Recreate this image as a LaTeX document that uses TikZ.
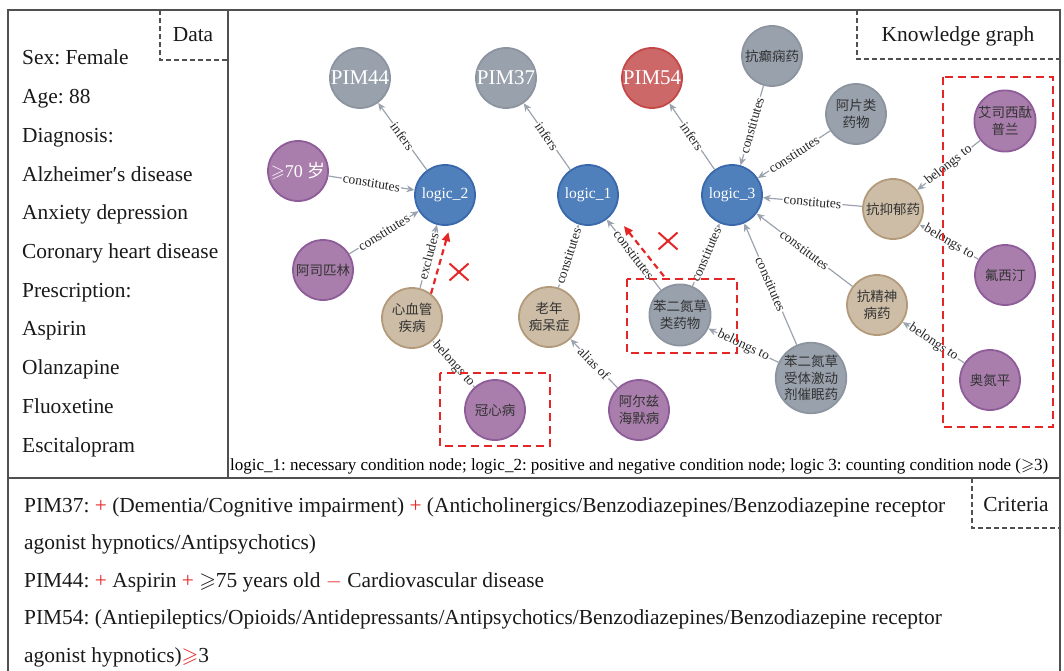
\documentclass[tikz,border=0pt]{standalone}
\usepackage{amsmath,amssymb}
\usepackage{fontspec}
\setmainfont{Liberation Serif}
\newfontfamily\cjk{Noto Sans CJK SC}
\usetikzlibrary{arrows.meta, shapes.misc, positioning}
\frenchspacing

\definecolor{framegray}{RGB}{80,80,80}
\definecolor{edgegray}{RGB}{155,163,175}
\definecolor{pimgrayfill}{RGB}{153,161,173}
\definecolor{pimgrayline}{RGB}{140,148,160}
\definecolor{logicfill}{RGB}{80,128,188}
\definecolor{logicline}{RGB}{58,104,172}
\definecolor{pimredfill}{RGB}{205,104,104}
\definecolor{pimredline}{RGB}{196,72,72}
\definecolor{purplefill}{RGB}{169,126,172}
\definecolor{purpleline}{RGB}{142,92,152}
\definecolor{tanfill}{RGB}{205,189,166}
\definecolor{tanline}{RGB}{178,154,122}
\definecolor{markred}{RGB}{228,38,38}

\tikzset{
  frame/.style={draw=framegray, line width=1.4pt},
  tagline/.style={draw=framegray, line width=1.1pt, dash pattern=on 5pt off 3pt},
  reddash/.style={draw=markred, line width=2.2pt, dash pattern=on 8pt off 5pt},
  kg/.style={circle, minimum size=60pt, inner sep=0pt, line width=1.8pt, align=center,
    font=\cjk\fontsize{13.5}{16.5}\selectfont, text=black!80},
  grayball/.style={kg, fill=pimgrayfill, draw=pimgrayline},
  pimball/.style={kg, fill=pimgrayfill, draw=pimgrayline, text=white, font=\fontsize{21}{21}\selectfont},
  redball/.style={pimball, fill=pimredfill, draw=pimredline},
  logicball/.style={kg, fill=logicfill, draw=logicline, text=white, font=\fontsize{15.5}{16}\selectfont},
  purpleball/.style={kg, fill=purplefill, draw=purpleline},
  tanball/.style={kg, fill=tanfill, draw=tanline},
  rel/.style={draw=edgegray, line width=1.2pt, -{Stealth[length=8pt,width=7pt]}},
  rlabel/.style={sloped, fill=white, inner sep=1pt, text=black!85, font=\fontsize{13.5}{13.5}\selectfont},
  redarrow/.style={draw=markred, line width=2.2pt, dash pattern=on 6pt off 4pt,
    -{Triangle[length=9pt,width=8pt]}},
  cross/.style={cross out, draw=markred, line width=2pt, minimum width=17pt, minimum height=15pt, inner sep=0pt},
  bigtxt/.style={font=\fontsize{21.4}{24}\selectfont, inner sep=0pt, text=black!90}
}

\begin{document}
\begin{tikzpicture}[x=1pt,y=-1pt]

% Khung ngoài
\useasboundingbox (0,0) rectangle (1064,671);
\draw[frame] (8,671) -- (8,10) -- (1060,10) -- (1060,671);
\draw[frame] (228,10) -- (228,478); % cột dữ liệu
\draw[frame] (8,478) -- (1060,478); % tiêu chí

% Nhãn các khung
\draw[tagline] (160,10) -- (160,60) -- (228,60);
\node[bigtxt, anchor=base] (datatag) at (193,42) {Data};
\draw[tagline] (857,10) -- (857,59) -- (1060,59);
\node[bigtxt, anchor=base] (kgtag) at (958,42) {Knowledge graph};
\draw[tagline] (972,478) -- (972,528) -- (1060,528);
\node[bigtxt, anchor=base] (crittag) at (1016,511) {Criteria};

% Dữ liệu bệnh nhân
\foreach \txt [count=\i] in {Sex: Female, Age: 88, Diagnosis:, Alzheimer′s disease,
    Anxiety depression, Coronary heart disease, Prescription:, Aspirin,
    Olanzapine, Fluoxetine, Escitalopram}
  \node[bigtxt, anchor=base west] (data\i) at (22,{65+38.7*(\i-1)}) {\txt};

% Các nút logic và PIM
\node[pimball] (pim44) at (360,78) {PIM44};
\node[pimball] (pim37) at (506,78) {PIM37};
\node[redball] (pim54) at (652,78) {PIM54};
\node[logicball] (logic2) at (445,195) {logic\_2};
\node[logicball] (logic1) at (588,195) {logic\_1};
\node[logicball] (logic3) at (732,195) {logic\_3};

% Các nút thực thể
\node[purpleball, text=white, font=\fontsize{18}{18}\selectfont] (age70) at (298,171) {$\geqslant$70 {\cjk 岁}};
\node[purpleball] (aspirin) at (323,270) {阿司匹林};
\node[tanball] (cvd) at (412,318) {心血管\\疾病};
\node[purpleball] (chd) at (495,410) {冠心病};
\node[tanball] (dementia) at (549,317) {老年\\痴呆症};
\node[purpleball] (alz) at (639,410) {阿尔兹\\海默病};
\node[grayball] (benzo) at (680,315) {苯二氮草\\类药物};
\node[grayball] (bzra) at (811,378) {苯二氮草\\受体激动\\剂催眠药};
\node[grayball] (antiepi) at (772,56) {抗癫痫药};
\node[grayball] (opioid) at (856,114) {阿片类\\药物};
\node[tanball] (antidep) at (893,209) {抗抑郁药};
\node[tanball] (antipsy) at (877,305) {抗精神\\病药};
\node[purpleball] (escit) at (1005,121) {艾司西酞\\普兰};
\node[purpleball] (fluox) at (1005,275) {氟西汀};
\node[purpleball] (olanz) at (990,380) {奥氮平};

% Các cạnh quan hệ
\draw[rel] (logic2) -- node[rlabel]{infers} (pim44);
\draw[rel] (age70) -- node[rlabel]{constitutes} (logic2);
\draw[rel] (aspirin) -- node[rlabel]{constitutes} (logic2);
\draw[rel] (cvd) -- node[rlabel]{excludes} (logic2);
\draw[rel] (chd) -- node[rlabel]{belongs to} (cvd);
\draw[rel] (logic1) -- node[rlabel]{infers} (pim37);
\draw[rel] (dementia) -- node[rlabel]{constitutes} (logic1);
\draw[rel] (benzo) -- node[rlabel]{constitutes} (logic1);
\draw[rel] (alz) -- node[rlabel]{alias of} (dementia);
\draw[rel] (logic3) -- node[rlabel]{infers} (pim54);
\draw[rel] (antiepi) -- node[rlabel]{constitutes} (logic3);
\draw[rel] (opioid) -- node[rlabel]{constitutes} (logic3);
\draw[rel] (antidep) -- node[rlabel]{constitutes} (logic3);
\draw[rel] (antipsy) -- node[rlabel]{constitutes} (logic3);
\draw[rel] (benzo) -- node[rlabel]{constitutes} (logic3);
\draw[rel] (bzra) -- node[rlabel]{constitutes} (logic3);
\draw[rel] (bzra) -- node[rlabel]{belongs to} (benzo);
\draw[rel] (escit) -- node[rlabel]{belongs to} (antidep);
\draw[rel] (fluox) -- node[rlabel]{belongs to} (antidep);
\draw[rel] (olanz) -- node[rlabel]{belongs to} (antipsy);

% Khung đỏ và mũi tên bị loại
\draw[reddash] (440,373) rectangle (550,446);
\draw[reddash] (627,279) rectangle (737,353);
\draw[reddash] (943,77) rectangle (1053,427);
\draw[redarrow, shorten >=7pt] (cvd.52) -- (logic2.-80);
\node[cross] (cross1) at (459,272) {};
\draw[redarrow, shorten <=11pt, shorten >=17pt] (benzo.107) -- (logic1.-35);
\node[cross] (cross2) at (668,241) {};

% Chú thích
\node[anchor=base west, inner sep=0pt, font=\fontsize{17}{17}\selectfont] (legend) at (230,470)
  {logic\_1: necessary condition node; logic\_2: positive and negative condition node; logic 3: counting condition node ($\geqslant$3)};

% Tiêu chí
\node[bigtxt, anchor=base west] (crit1) at (24,512) {PIM37: \textcolor{markred}{+} (Dementia/Cognitive impairment) \textcolor{markred}{+} (Anticholinergics/Benzodiazepines/Benzodiazepine receptor};
\node[bigtxt, anchor=base west] (crit2) at (24,549.5) {agonist hypnotics/Antipsychotics)};
\node[bigtxt, anchor=base west] (crit3) at (24,587) {PIM44: \textcolor{markred}{+} Aspirin \textcolor{markred}{+} $\geqslant$75 years old \textcolor{markred}{$-$} Cardiovascular disease};
\node[bigtxt, anchor=base west] (crit4) at (24,624.5) {PIM54: (Antiepileptics/Opioids/Antidepressants/Antipsychotics/Benzodiazepines/Benzodiazepine receptor};
\node[bigtxt, anchor=base west] (crit5) at (24,662) {agonist hypnotics)\textcolor{markred}{$\geqslant$}3};

\end{tikzpicture}
\end{document}
